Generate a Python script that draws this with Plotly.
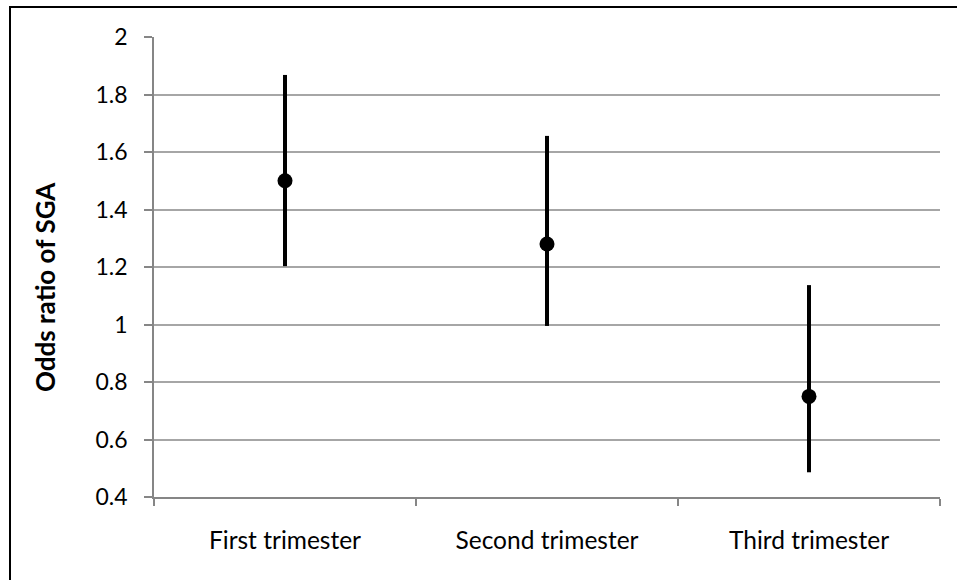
import plotly.graph_objects as go

categories = ["First trimester", "Second trimester", "Third trimester"]
odds_ratio = [1.50, 1.28, 0.75]
ci_lower = [1.203, 0.995, 0.486]
ci_upper = [1.868, 1.656, 1.137]
y_ticks = [0.4, 0.6, 0.8, 1.0, 1.2, 1.4, 1.6, 1.8, 2.0]
y_tick_text = ["0.4", "0.6", "0.8", "1", "1.2", "1.4", "1.6", "1.8", "2"]

err_plus = [u - v for u, v in zip(ci_upper, odds_ratio)]
err_minus = [v - l for v, l in zip(odds_ratio, ci_lower)]

FONT = "Lato, Carlito, Calibri, sans-serif"
FS = 23

fig = go.Figure()
fig.add_trace(go.Scatter(
    x=categories, y=odds_ratio, mode="markers",
    marker=dict(color="black", size=15),
    error_y=dict(type="data", symmetric=False, array=err_plus, arrayminus=err_minus,
                 color="black", thickness=4, width=0),
    showlegend=False,
))

W, H = 957, 580
L, R, T, B = 154, 17, 37, 83
pw, ph = W - L - R, H - T - B

def px(x):
    return (x - L) / pw

def py(y):
    return 1 - (y - T) / ph

fig.update_layout(
    width=W, height=H,
    margin=dict(l=L, r=R, t=T, b=B),
    paper_bgcolor="white", plot_bgcolor="white",
    font=dict(family=FONT, size=FS, color="black"),
    xaxis=dict(
        type="category", tickson="boundaries", ticks="outside", ticklen=7,
        tickcolor="#868686", tickwidth=1.5, showline=True, linecolor="#868686", linewidth=1.5,
        showgrid=False, tickfont=dict(size=24.5), ticklabelstandoff=21,
        range=[-0.5, 2.5],
    ),
    yaxis=dict(
        range=[0.4, 2.0], tickvals=y_ticks, ticktext=y_tick_text,
        ticks="outside", ticklen=8, tickcolor="#868686", tickwidth=1.5,
        showline=True, linecolor="#868686", linewidth=1.5,
        showgrid=True, gridcolor="#a6a6a6", gridwidth=1.5,
        tickfont=dict(size=FS), ticklabelstandoff=12, zeroline=False,
    ),
    shapes=[
        dict(type="line", xref="paper", yref="paper", x0=px(10), x1=px(10), y0=py(6), y1=py(590),
             line=dict(color="black", width=2)),
        dict(type="line", xref="paper", yref="paper", x0=px(9), x1=px(970), y0=py(7), y1=py(7),
             line=dict(color="black", width=2)),
    ],
    annotations=[
        dict(text="<b>Odds ratio of SGA</b>", xref="paper", yref="paper",
             x=px(45), y=py(287), textangle=-90, showarrow=False,
             font=dict(size=26, family=FONT, color="black"), xanchor="center", yanchor="middle"),
    ],
)

fig.write_html("out.html", config={"displayModeBar": False},
               post_script="document.body.style.margin='0';window.dispatchEvent(new Event('resize'));")
